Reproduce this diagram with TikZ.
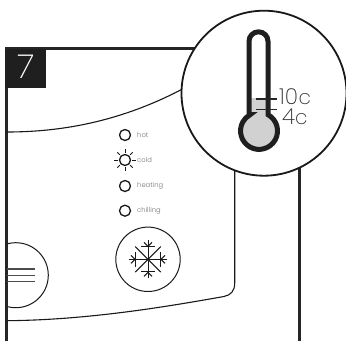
\documentclass[tikz,border=0pt]{standalone}
\usepackage{fontspec}
\setmainfont{Poppins ExtraLight}
\newfontfamily\ledfont{Poppins Light}
\begin{document}
\begin{tikzpicture}[x=1pt,y=-1pt,
  thick line/.style={line width=2.4pt,draw=black!85},
  thin line/.style={line width=1.1pt,draw=black!90},
  led/.style={circle,draw=black!90,line width=1.3pt,minimum size=11pt,inner sep=0pt},
  ledtext/.style={text=black!55,font=\ledfont\fontsize{6.8}{7}\selectfont,anchor=west,inner sep=0pt},
  tempt/.style={text=black!80,anchor=base west,inner sep=0pt}]
\useasboundingbox (0,0) rectangle (346,341);
\fill[white] (0,0) rectangle (346,341);
% housing
\draw[thick line] (6.5,341) -- (6.5,48.5) -- (200,48.5);
\draw[thick line] (299.3,150) -- (299.3,341);
\fill[black!88] (5.3,48.5) rectangle (46,88);
\node[text=white,font=\fontsize{33}{33}\selectfont,inner sep=0pt,xslant=0.1] (seven) at (25,67) {7};
% panel
\draw[thin line] (7,132) .. controls (70,132) and (130,118) .. (190,85);
\draw[thin line] (234.7,160) -- (234.7,283) .. controls (234.7,291) and (231,295) .. (224,296.5)
  .. controls (170,306) and (90,320) .. (7,320.7);
% leds
\node[led] (l1) at (125,135) {};
\node[led] (l2) at (125,160) {};
\node[led] (l3) at (125,186) {};
\node[led] (l4) at (125,210.7) {};
\foreach \a in {0,45,...,315}
  \draw[line width=.9pt,black!90] (l2.center) ++(\a:7.3) -- ++(\a:3.6);
\node[ledtext] (t1) at (137,135) {hot};
\node[ledtext] (t2) at (137,160) {cold};
\node[ledtext] (t3) at (137,186) {heating};
\node[ledtext] (t4) at (137,210.7) {chilling};
% snow button
\node[circle,draw=black!90,line width=1pt,minimum size=64.4pt,inner sep=0pt] (snow) at (148,259.3) {};
\foreach \a in {0,90,180,270} {
  \draw[line width=1pt,black!90] (snow.center) -- ++(\a:19);
  \draw[line width=1pt,black!90] (snow.center) ++(\a:17) ++(\a+90:4) -- ++(\a+225:5.66) -- ++(\a-45:5.66);
  \draw[line width=1pt,black!90] (snow.center) -- ++(\a+45:18);
  \draw[line width=1pt,black!90] (snow.center) ++(\a+45:17.5) ++(\a:-12.4) -- ++(\a:7.5)
     (snow.center) ++(\a+45:17.5) ++(\a+90:-12.4) -- ++(\a+90:7.5);
}
% left button
\begin{scope}
\clip (7,230) rectangle (60,320);
\draw[line width=1pt,black!90] (15.8,275.2) circle (32.5);
\end{scope}
\draw[line width=1.2pt,black!70] (7,269) -- (35,269) (7,275.3) -- (35,275.3) (7,281.5) -- (35,281.5);
% magnifier
\node[circle,draw=black!90,fill=white,line width=1.8pt,minimum size=165pt,inner sep=0pt] (mag) at (264,93.2) {};
% thermometer
\fill[black!18] (249,98) rectangle (268,125);
\fill[black!18] (258.5,131) circle (18.5);
\draw[line width=5pt,black!88] (249,114.7) -- (249,41.3) arc[start angle=180,end angle=360,radius=9.5] -- (268,114.7)
  arc[start angle=-61,end angle=241,radius=18.5] -- cycle;
\draw[line width=1.1pt,black!85] (256.3,99) -- (277,99) (256.3,109.3) -- (277,109.3);
\node[tempt,font=\fontsize{22}{22}\selectfont] (ten) at (279,104) {10\kern.5pt{\fontsize{20}{20}\selectfont c}};
\node[tempt,font=\fontsize{22}{22}\selectfont] (four) at (282,124.5) {4{\fontsize{20}{20}\selectfont c}};
\end{tikzpicture}
\end{document}
